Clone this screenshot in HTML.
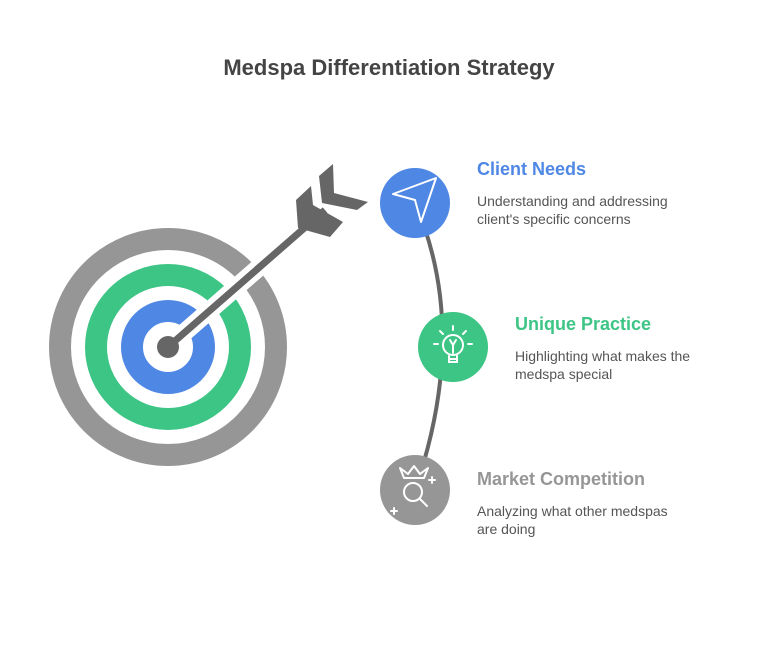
<!DOCTYPE html>
<html><head><meta charset="utf-8"><style>
body{margin:0;background:#fff;width:778px;height:640px;overflow:hidden;font-family:"Liberation Sans",sans-serif}
</style></head><body>
<svg width="778" height="640" viewBox="0 0 778 640" xmlns="http://www.w3.org/2000/svg" font-family="Liberation Sans, sans-serif">
<text x="389" y="75" text-anchor="middle" font-size="22" font-weight="bold" fill="#444">Medspa Differentiation Strategy</text>
<circle cx="168" cy="347" r="108" fill="none" stroke="#969696" stroke-width="22"/>
<circle cx="168" cy="347" r="72" fill="none" stroke="#3dc585" stroke-width="22"/>
<circle cx="168" cy="347" r="36" fill="none" stroke="#4e87e4" stroke-width="22"/>
<line x1="178" y1="338" x2="295" y2="236" stroke="#fff" stroke-width="18"/>
<line x1="168" y1="347" x2="325" y2="210" stroke="#666" stroke-width="7"/>
<circle cx="168" cy="347" r="11" fill="#666"/>
<polygon points="296,200 311,186 313,205 343,222 330,237 298,228" fill="#666"/>
<polygon points="319,176 333,164 334,193 368,202 357,210 322,203" fill="#666"/>
<line x1="323" y1="203" x2="343" y2="222" stroke="#fff" stroke-width="0"/>
<path d="M415,203 Q470,330 415,490" fill="none" stroke="#666" stroke-width="4"/>
<circle cx="415" cy="203" r="35" fill="#4e87e4"/>
<path d="M393,194 L436,178 L421,222 L415,200 Z" fill="none" stroke="#fff" stroke-width="2" stroke-linejoin="round"/>
<circle cx="453" cy="347" r="35" fill="#3dc585"/>
<g stroke="#fff" stroke-width="2" fill="none" stroke-linecap="round">
<circle cx="453" cy="345" r="10"/><path d="M449,356v6h8v-6M449,359h8M450,340l3,5 3,-5M453,345v8"/>
<path d="M453,326v4M440,331l3,3M466,331l-3,3M434,344h4M468,344h4"/>
</g>
<circle cx="415" cy="490" r="35" fill="#969696"/>
<g stroke="#fff" stroke-width="2" fill="none" stroke-linecap="round" stroke-linejoin="round">
<path d="M400,468l4,10h20l4,-10-8,6-6,-8-6,8z"/><circle cx="413" cy="492" r="9"/><path d="M420,499l7,7M432,477v6M429,480h6M394,508v6M391,511h6"/>
</g>
<text x="477" y="175" font-size="18" font-weight="bold" fill="#4e87e4">Client Needs</text>
<text x="477" y="206" font-size="14" fill="#555">Understanding and addressing</text>
<text x="477" y="224" font-size="14" fill="#555">client's specific concerns</text>
<text x="515" y="330" font-size="18" font-weight="bold" fill="#3dc585">Unique Practice</text>
<text x="515" y="361" font-size="14" fill="#555">Highlighting what makes the</text>
<text x="515" y="379" font-size="14" fill="#555">medspa special</text>
<text x="477" y="485" font-size="18" font-weight="bold" fill="#969696">Market Competition</text>
<text x="477" y="516" font-size="14" fill="#555">Analyzing what other medspas</text>
<text x="477" y="534" font-size="14" fill="#555">are doing</text>
</svg>
</body></html>
